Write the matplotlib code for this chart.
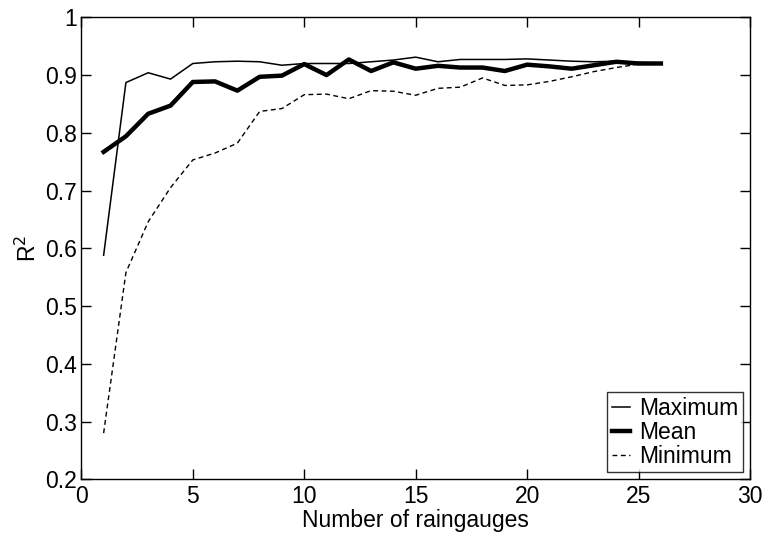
import matplotlib

matplotlib.use("Agg")
import matplotlib.pyplot as plt

# number of raingauges used
n_gauges = list(range(1, 27))

r2_max = [0.588, 0.887, 0.904, 0.893, 0.920, 0.923, 0.924, 0.923, 0.917, 0.920,
          0.920, 0.920, 0.923, 0.926, 0.931, 0.923, 0.927, 0.927, 0.927, 0.928,
          0.926, 0.924, 0.923, 0.924, 0.922, 0.921]
r2_mean = [0.767, 0.794, 0.833, 0.847, 0.888, 0.889, 0.873, 0.897, 0.899, 0.919,
           0.900, 0.927, 0.907, 0.922, 0.911, 0.916, 0.913, 0.913, 0.907, 0.918,
           0.915, 0.911, 0.917, 0.923, 0.920, 0.920]
r2_min = [0.280, 0.558, 0.646, 0.705, 0.753, 0.765, 0.782, 0.837, 0.842, 0.866,
          0.867, 0.859, 0.873, 0.872, 0.865, 0.877, 0.879, 0.895, 0.882, 0.883,
          0.889, 0.897, 0.906, 0.913, 0.919, 0.921]

plt.rcParams["font.family"] = ["Liberation Sans", "DejaVu Sans"]
plt.rcParams["font.size"] = 16.5

fig = plt.figure(figsize=(7.63, 5.34), dpi=100)
ax = fig.add_axes([0.1066, 0.1024, 0.8764, 0.8652])

ax.plot(n_gauges, r2_max, color="black", linewidth=1.1, label="Maximum")
ax.plot(n_gauges, r2_mean, color="black", linewidth=3.2, label="Mean")
ax.plot(n_gauges, r2_min, color="black", linewidth=1.0,
        linestyle=(0, (3.5, 2.5)), label="Minimum")

ax.set_xlim(0, 30)
ax.set_ylim(0.2, 1.0)
ax.set_xticks([0, 5, 10, 15, 20, 25, 30])
ax.set_yticks([0.2, 0.3, 0.4, 0.5, 0.6, 0.7, 0.8, 0.9, 1.0])
ax.set_yticklabels(["0.2", "0.3", "0.4", "0.5", "0.6", "0.7", "0.8", "0.9", "1"])
ax.tick_params(direction="in", length=7, width=1, top=True, right=True, pad=3)
ax.tick_params(axis="x", pad=4)
for s in ax.spines.values():
    s.set_linewidth(1.0)

ax.set_xlabel("Number of raingauges", labelpad=1)
ax.set_ylabel("R$^2$", labelpad=3)

leg = ax.legend(loc="lower right", fontsize=16.5, frameon=True, fancybox=False,
                edgecolor="black", handlelength=0.8, handletextpad=0.4,
                borderpad=0.2, labelspacing=0.05, borderaxespad=0.3)
leg.get_frame().set_linewidth(1.0)

fig.savefig("out.png", dpi=100)
